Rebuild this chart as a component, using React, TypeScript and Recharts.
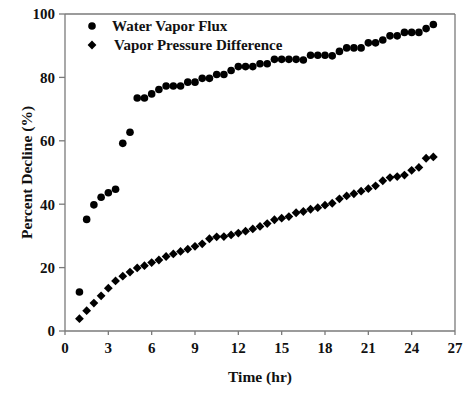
import { ScatterChart, Scatter, XAxis, YAxis, ReferenceLine } from "recharts";

const time = [
  1, 1.5, 2, 2.5, 3, 3.5, 4, 4.5, 5, 5.5, 6, 6.5, 7, 7.5, 8, 8.5, 9, 9.5, 10, 10.5, 11, 11.5, 12, 12.5, 13,
  13.5, 14, 14.5, 15, 15.5, 16, 16.5, 17, 17.5, 18, 18.5, 19, 19.5, 20, 20.5, 21, 21.5, 22, 22.5, 23, 23.5, 24,
  24.5, 25, 25.5,
];

const waterVaporFlux = [
  12.3, 35.2, 39.8, 42.2, 43.6, 44.7, 59.2, 62.7, 73.5, 73.5, 74.8, 76.2, 77.3, 77.3, 77.3, 78.5, 78.5, 79.7,
  79.7, 80.9, 80.9, 82.2, 83.4, 83.4, 83.4, 84.3, 84.3, 85.7, 85.7, 85.7, 85.7, 85.5, 87, 87, 87, 86.8, 88.2,
  89.3, 89.3, 89.3, 90.9, 90.9, 91.8, 93.1, 93.1, 94.2, 94.2, 94.2, 95.4, 96.7,
];

const vaporPressureDiff = [
  3.9, 6.4, 8.8, 11.1, 13.5, 15.8, 17.3, 18.6, 19.9, 20.6, 21.6, 22.4, 23.5, 24.3, 25.1, 25.8, 26.7, 27.5,
  29.1, 29.7, 29.8, 30.3, 30.9, 31.5, 32.2, 33.0, 33.9, 35.1, 35.6, 36.1, 37.3, 37.7, 38.4, 38.9, 39.7, 40.3,
  41.7, 42.6, 43.3, 44.1, 44.9, 45.8, 47.4, 48.4, 48.7, 49.2, 50.7, 51.6, 54.5, 54.9,
];

const seriesNames = ["Water Vapor Flux", "Vapor Pressure Difference"];
const xTicks = [0, 3, 6, 9, 12, 15, 18, 21, 24, 27];
const yTicks = [0, 20, 40, 60, 80, 100];

const fluxData = time.map((t, i) => ({ t, v: waterVaporFlux[i] }));
const vpdData = time.map((t, i) => ({ t, v: vaporPressureDiff[i] }));

const FONT = "'Liberation Serif', 'Times New Roman', serif";
const AXIS = "#7a7a7a";

const Dot = (props: any) => <circle cx={props.cx} cy={props.cy} r={3.8} fill="#000" />;
const Diamond = (props: any) => {
  const { cx, cy } = props;
  const r = 4.4;
  return <polygon points={`${cx},${cy - r} ${cx + r},${cy} ${cx},${cy + r} ${cx - r},${cy}`} fill="#000" />;
};

// plain-number labels; the zero-width space keeps a lone digit from being dropped
const XTick = (props: any) => (
  <text x={props.x} y={props.y} dy={11} textAnchor="middle" fill="#111" fontSize={15} fontFamily={FONT} fontWeight={700}>
    <tspan>{String(props.payload.value) + "\u200B"}</tspan>
  </text>
);

const LegendBox = () => (
  <g fontFamily={FONT} fontWeight={700} fontSize={15} fill="#111">
    <circle cx={92} cy={26} r={3.8} fill="#000" />
    <text x={112} y={31}>{seriesNames[0]}</text>
    <polygon points="92,40.6 96.4,45 92,49.4 87.6,45" fill="#000" />
    <text x={114} y={50}>{seriesNames[1]}</text>
  </g>
);

export default function App() {
  const tick = { fill: "#111", fontSize: 15, fontFamily: FONT, fontWeight: 700 };
  return (
    <div style={{ position: "absolute", left: 0, top: 0, background: "#fff" }}>
      <ScatterChart width={476} height={396} margin={{ top: 14, right: 21, left: 0, bottom: 0 }}>
        <XAxis
          type="number"
          dataKey="t"
          domain={[0, 27]}
          ticks={xTicks}
          interval={0}
          tick={<XTick />}
          tickSize={4}
          tickMargin={7}
          height={65}
          axisLine={{ stroke: AXIS, strokeWidth: 1.3 }}
          tickLine={{ stroke: AXIS, strokeWidth: 1.3 }}
          label={{
            value: "Time (hr)",
            position: "insideBottom",
            offset: 14,
            style: { fill: "#111", fontSize: 15.5, fontFamily: FONT, fontWeight: 700 },
          }}
        />
        <YAxis
          type="number"
          dataKey="v"
          domain={[0, 100]}
          ticks={yTicks}
          interval={0}
          tick={tick}
          tickSize={6}
          tickMargin={4}
          width={65}
          axisLine={{ stroke: AXIS, strokeWidth: 1.3 }}
          tickLine={{ stroke: AXIS, strokeWidth: 1.3 }}
          label={{
            value: "Percent Decline (%)",
            angle: -90,
            position: "center",
            dx: -6,
            style: { fill: "#111", fontSize: 15.5, fontFamily: FONT, fontWeight: 700, textAnchor: "middle" },
          }}
        />
        <ReferenceLine y={100} stroke={AXIS} strokeWidth={1.3} />
        <ReferenceLine x={27} stroke={AXIS} strokeWidth={1.3} />
        <Scatter name={seriesNames[0]} data={fluxData} shape={Dot} isAnimationActive={false} />
        <Scatter name={seriesNames[1]} data={vpdData} shape={Diamond} isAnimationActive={false} />
        <LegendBox />
      </ScatterChart>
    </div>
  );
}
